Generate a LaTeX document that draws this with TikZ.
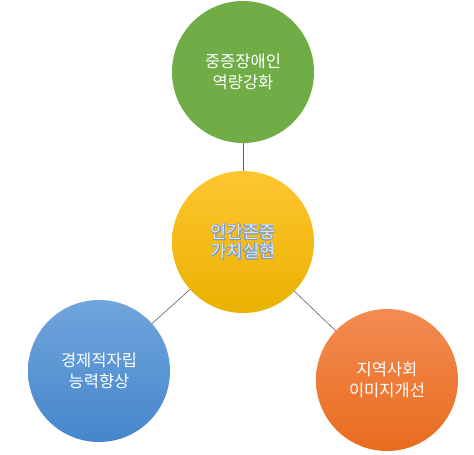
\documentclass[tikz,border=0pt]{standalone}
\usepackage{fontspec}
\setmainfont{Noto Sans CJK KR}
\usepackage{contour}
\contourlength{0.55pt}
\usetikzlibrary{calc}
\definecolor{goalgreen}{HTML}{70AD47}
\definecolor{coreyellowtop}{HTML}{FFC630}
\definecolor{coreyellowbot}{HTML}{E9B100}
\definecolor{goalbluetop}{HTML}{70A5DD}
\definecolor{goalbluebot}{HTML}{4586CB}
\definecolor{goalorangetop}{HTML}{F38B52}
\definecolor{goalorangebot}{HTML}{E96C1E}
\definecolor{coretext}{HTML}{DCE6F2}
\definecolor{coreline}{HTML}{7F9CC2}
\definecolor{linkgray}{HTML}{5F5F5F}
\tikzset{
	goal/.style={circle, minimum size=142pt, inner sep=0pt, align=center,
		text=white, font=\fontsize{16.5}{20.5}\selectfont},
	link/.style={draw=linkgray, line width=0.6pt}
}

\begin{document}
\begin{tikzpicture}[x=1pt, y=-1pt]
		%%%%% START %%%%%
		\useasboundingbox (0, 0) rectangle (474, 455);
		
		\node[goal, fill=goalgreen] (strength) at (243, 72) {중증장애인\\역량강화};
		\node[goal, top color=coreyellowtop, bottom color=coreyellowbot,
			font=\fontsize{17.5}{19}\selectfont, text=coretext] (core) at (243, 242)
			{\contour{coreline}{인간존중}\\\contour{coreline}{가치실현}};
		\node[goal, top color=goalbluetop, bottom color=goalbluebot] (economy) at (99, 371) {경제적자립\\능력향상};
		\node[goal, top color=goalorangetop, bottom color=goalorangebot] (society) at (387, 380) {지역사회\\이미지개선};
		
		\draw[link] (strength) -- (core);
		\draw[link] (core) -- (economy);
		\draw[link] (core) -- (society);
		%%%%% END %%%%%
	\end{tikzpicture}
\end{document}
